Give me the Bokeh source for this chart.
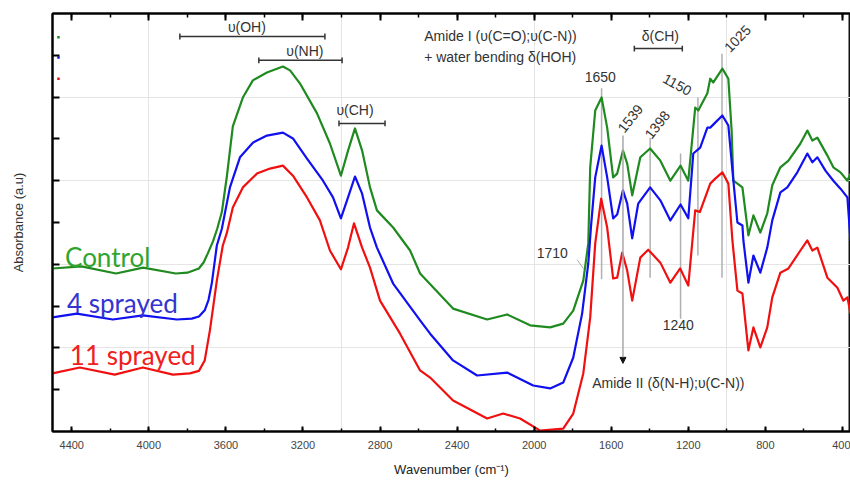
from bokeh.plotting import figure
from bokeh.models import (Range1d, LinearAxis, SingleIntervalTicker, FixedTicker,
                          Arrow, NormalHead, Label)
from bokeh.embed import file_html
from bokeh.resources import INLINE

# ---------------- data (wavenumber cm-1, absorbance a.u.) ----------------
wn_control = [4500, 4350, 4170, 4030, 3860, 3800, 3740, 3715, 3695, 3667, 3645,
              3621, 3595, 3564, 3512, 3460, 3387, 3304, 3267, 3216, 3127, 3060,
              3003, 2966, 2930, 2893, 2852, 2816, 2732, 2644, 2592, 2421,
              2244, 2140, 2021, 1917, 1849, 1797, 1745, 1719, 1709, 1683,
              1650, 1621, 1590, 1569, 1539, 1517, 1491, 1449, 1398, 1345,
              1293, 1240, 1200, 1164, 1148, 1101, 1086, 1070, 1023, 992,
              975, 966, 945, 919, 888, 862, 826, 790, 764, 722,
              680, 618, 582, 556, 530, 478, 447, 410, 374, 358]
abs_control = [3.90, 3.95, 3.78, 3.92, 3.78, 3.80, 3.90, 4.05, 4.25, 4.55, 4.85,
               5.25, 6.10, 7.30, 7.99, 8.40, 8.59, 8.73, 8.64, 8.33, 7.61, 6.89,
               6.12, 6.72, 7.25, 6.72, 5.84, 5.29, 4.88, 4.33, 3.78, 2.94,
               2.68, 2.80, 2.54, 2.49, 2.58, 2.89, 3.61, 4.50, 6.32, 7.68,
               7.99, 7.27, 6.08, 6.17, 6.72, 6.41, 5.65, 6.56, 6.77, 6.48,
               6.00, 6.36, 6.00, 7.75, 7.68, 8.09, 8.44, 8.35, 8.68, 8.44,
               7.20, 6.00, 5.93, 5.84, 4.69, 5.17, 4.76, 5.22, 5.89, 6.32,
               6.48, 6.89, 7.20, 6.96, 7.03, 6.60, 6.32, 6.20, 6.00, 6.17]

wn_4sprayed = [4500, 4374, 4187, 4031, 3855, 3777, 3740, 3710, 3690, 3673, 3647, 3621,
               3579, 3527, 3460, 3387, 3304, 3252, 3179, 3096, 3044, 3003,
               2966, 2930, 2893, 2852, 2816, 2732, 2592, 2540, 2421, 2296,
               2140, 2005, 1917, 1849, 1797, 1751, 1719, 1705, 1683, 1650,
               1621, 1590, 1569, 1539, 1517, 1491, 1460, 1398, 1345, 1293,
               1240, 1200, 1174, 1138, 1101, 1086, 1060, 1023, 992, 966,
               945, 919, 914, 888, 862, 826, 790, 764, 722, 686,
               634, 582, 556, 530, 488, 447, 410, 374, 358]
abs_4sprayed = [2.73, 2.82, 2.68, 2.78, 2.68, 2.70, 2.75, 2.90, 3.15, 3.55, 4.45, 4.85,
                5.84, 6.56, 6.91, 7.08, 7.15, 7.01, 6.53, 6.00, 5.60, 5.10,
                5.60, 6.10, 5.69, 4.88, 4.40, 3.54, 2.66, 2.34, 1.70, 1.34,
                1.41, 1.10, 1.03, 1.17, 1.77, 2.82, 4.02, 4.90, 6.08, 6.84,
                6.08, 5.10, 5.19, 5.77, 5.45, 4.62, 5.45, 5.84, 5.53, 5.05,
                5.43, 5.10, 6.65, 6.79, 7.27, 7.27, 7.39, 7.56, 7.32, 6.00,
                5.00, 4.93, 4.57, 3.56, 4.21, 3.80, 4.40, 5.05, 5.72, 5.84,
                6.20, 6.65, 6.44, 6.56, 6.24, 6.00, 5.81, 5.60, 4.57]

wn_11sprayed = [4500, 4358, 4177, 4031, 3875, 3787, 3740, 3710, 3683, 3647, 3616,
                3595, 3564, 3512, 3439, 3371, 3304, 3252, 3179, 3112, 3060,
                3003, 2966, 2935, 2893, 2852, 2800, 2696, 2592, 2540, 2421,
                2244, 2161, 2073, 1969, 1849, 1797, 1745, 1709, 1683, 1652,
                1621, 1590, 1569, 1543, 1517, 1491, 1449, 1408, 1345, 1293,
                1242, 1200, 1164, 1140, 1086, 1060, 1023, 992, 971, 945,
                919, 888, 862, 826, 790, 764, 722, 680, 618, 582,
                556, 530, 478, 426, 395, 374, 358]
abs_11sprayed = [1.39, 1.53, 1.36, 1.53, 1.36, 1.39, 1.45, 1.70, 2.42, 3.61, 4.45,
                 4.75, 5.36, 5.84, 6.17, 6.29, 6.36, 6.12, 5.60, 5.05, 4.33,
                 3.88, 4.40, 4.98, 4.40, 3.92, 3.13, 2.34, 1.46, 1.29, 0.74,
                 0.31, 0.43, 0.31, 0.02, 0.07, 0.43, 1.39, 2.73, 4.50, 5.57,
                 4.88, 3.66, 3.68, 4.28, 3.85, 3.13, 4.16, 4.35, 4.04, 3.56,
                 3.90, 3.49, 5.29, 5.25, 5.93, 6.05, 6.20, 5.93, 4.57, 3.37,
                 3.30, 1.94, 2.49, 2.01, 2.49, 3.21, 3.80, 3.90, 4.33, 4.57,
                 4.33, 4.40, 3.68, 3.44, 3.13, 3.21, 2.82]

series_names = ["Control", "4 sprayed", "11 sprayed"]
peak_wavenumbers = [1650, 1539, 1398, 1240, 1150, 1025]
peak_labels = ["1650", "1539", "1398", "1240", "1150", "1025"]

# ---------------- figure ----------------
FONT = "Liberation Sans"
p = figure(width=850, height=481, x_range=Range1d(4500, 358), y_range=Range1d(0, 10),
           output_backend="svg", toolbar_location=None,
           x_axis_location=None, y_axis_location=None,
           min_border_left=52, min_border_right=0, min_border_top=13, min_border_bottom=50)
p.background_fill_color = "white"
p.border_fill_color = "white"
p.outline_line_color = "#111111"
p.outline_line_width = 2

xticker = SingleIntervalTicker(interval=400, num_minor_ticks=2)
xb = LinearAxis(ticker=xticker, axis_label="Wavenumber (cm⁻¹)")
xb.major_tick_in = 5
xb.major_tick_out = 0
xb.minor_tick_in = 3
xb.minor_tick_out = 0
xb.axis_line_width = 2
xb.major_tick_line_width = 2
xb.minor_tick_line_width = 1.5
xb.major_label_text_font = FONT
xb.major_label_text_font_size = "11px"
xb.major_label_text_color = "#444444"
xb.major_label_standoff = 9
xb.axis_label_text_font = FONT
xb.axis_label_text_font_size = "13px"
xb.axis_label_text_font_style = "normal"
xb.axis_label_text_color = "#222222"
xb.axis_label_standoff = 10
p.add_layout(xb, "below")

xt = LinearAxis(ticker=SingleIntervalTicker(interval=400, num_minor_ticks=2))
xt.major_tick_in = 7
xt.major_tick_out = 0
xt.minor_tick_in = 4
xt.minor_tick_out = 0
xt.axis_line_width = 2
xt.major_tick_line_width = 2
xt.minor_tick_line_width = 1.5
xt.major_label_text_color = None
xt.major_label_text_font_size = "1px"
xt.major_label_standoff = 0
p.add_layout(xt, "above")

yl = LinearAxis(ticker=FixedTicker(ticks=[1, 2, 3, 4, 5, 6, 7, 8, 9]),
                axis_label="Absorbance (a.u)")
yl.major_tick_in = 7
yl.major_tick_out = 0
yl.minor_tick_line_color = None
yl.axis_line_width = 2
yl.major_tick_line_width = 2
yl.major_label_text_color = None
yl.major_label_text_font_size = "1px"
yl.major_label_standoff = 0
yl.axis_label_text_font = FONT
yl.axis_label_text_font_size = "13px"
yl.axis_label_text_font_style = "normal"
yl.axis_label_text_color = "#333333"
yl.axis_label_standoff = 27
p.add_layout(yl, "left")

# ---------------- peak marker lines ----------------
line_top = [8.21, 7.08, 7.03, 6.65, 7.99, 9.04]
line_bot = [3.64, 1.63, 3.68, 2.70, 4.21, 3.68]
for wn, t, b in zip(peak_wavenumbers, line_top, line_bot):
    if wn == 1539:
        p.add_layout(Arrow(end=NormalHead(size=6, fill_color="#111111", line_color="#111111"),
                           x_start=wn, y_start=t, x_end=wn, y_end=b,
                           line_color="#a8a8a8", line_width=1.5))
    else:
        p.segment(x0=[wn], y0=[t], x1=[wn], y1=[b], line_color="#b0b0b0", line_width=1.5)

# ---------------- spectra ----------------
colors = ["#1f8a1f", "#1010f0", "#f01010"]
for wn, ab, c in zip([wn_control, wn_4sprayed, wn_11sprayed],
                     [abs_control, abs_4sprayed, abs_11sprayed], colors):
    p.line(wn, ab, line_color=c, line_width=2.2, line_join="round")

# small coloured marks near the left axis
p.scatter([4469, 4469, 4469], [9.43, 8.95, 8.44], size=2.5, marker="square",
          fill_color=colors, line_color=None)

# ---------------- series labels ----------------
label_colors = ["#2fa52f", "#3434d0", "#f02020"]
for name, lx, ly, c in zip(series_names, [4435, 4425, 4410], [4.18, 3.08, 1.84], label_colors):
    p.add_layout(Label(x=lx, y=ly, text=name, text_font="Lato", text_font_size="26px",
                       text_color=c, text_align="left", text_baseline="alphabetic"))

# ---------------- band annotations ----------------
def bracket(x0, x1, y):
    p.segment(x0=[x0], y0=[y], x1=[x1], y1=[y], line_color="#333333", line_width=1.5)
    p.segment(x0=[x0, x1], y0=[y - 0.07, y - 0.07], x1=[x0, x1], y1=[y + 0.07, y + 0.07],
              line_color="#333333", line_width=1.5)

def note(x, y, t, size="14px", align="center", angle=0.0):
    p.add_layout(Label(x=x, y=y, text=t, text_font=FONT, text_font_size=size,
                       text_color="#333333", text_align=align, text_baseline="middle",
                       angle=angle))

bracket(3839, 3086, 9.45)
note(3491, 9.67, "υ(OH)")
bracket(3429, 2997, 8.88)
note(3190, 9.11, "υ(NH)")
bracket(3013, 2774, 7.37)
note(2930, 7.70, "υ(CH)")
bracket(1480, 1231, 9.16)
note(1345, 9.47, "δ(CH)")
note(2571, 9.47, "Amide I (υ(C=O);υ(C-N))", align="left")
note(2571, 8.97, "+ water bending δ(HOH)", align="left")
note(1657, 8.47, "1650")
note(1501, 7.49, "1539", angle=0.9)
note(1361, 7.34, "1398", angle=0.9)
note(1257, 8.30, "1150", angle=-0.5)
note(945, 9.40, "1025", angle=0.8)
note(1252, 2.54, "1240")
note(1906, 4.26, "1710")
p.segment(x0=[1777], y0=[4.11], x1=[1745], y1=[3.90], line_color="#aaaaaa", line_width=1)
note(1699, 1.17, "Amide II (δ(N-H);υ(C-N))", align="left")

open("out.html", "w").write(file_html(p, INLINE))
